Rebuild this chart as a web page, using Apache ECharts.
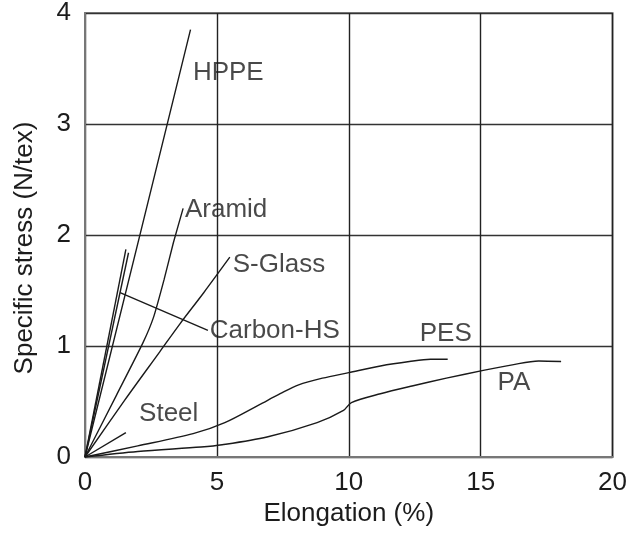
<!DOCTYPE html>
<html>
<head>
<meta charset="utf-8">
<script src="https://cdn.jsdelivr.net/npm/echarts@6/dist/echarts.min.js"></script>
<style>html,body{margin:0;padding:0;background:#fff}#c{width:630px;height:538px}</style>
</head>
<body>
<div id="c"></div>
<script>
// Axis ticks
var xTicks = [0, 5, 10, 15, 20];
var yTicks = [0, 1, 2, 3, 4];

// Curves: [elongation %, specific stress N/tex]
var hppe    = [[0,0],[2.05,1.97],[4.0,3.85]];
var aramid  = [[0,0],[1.2,0.56],[2.2,1.03],[2.6,1.26],[3.0,1.6],[3.35,1.93],[3.72,2.24]];
var sGlass  = [[0,0],[1.5,0.51],[2.84,0.95],[3.6,1.2],[4.5,1.48],[5.49,1.8]];
var carbonA = [[0,0],[1.55,1.87]];
var carbonB = [[0,0],[1.65,1.84]];
var carbonLeader = [[1.33,1.48],[4.66,1.14]];
var steel   = [[0,0],[1.55,0.22]];
var pes     = [[0,0],[2.0,0.1],[4.1,0.21],[5.3,0.31],[6.6,0.47],[7.4,0.57],[8.1,0.65],[9.0,0.71],[10.0,0.76],[11.2,0.82],[12.3,0.86],[13.1,0.88],[13.75,0.88]];
var pa      = [[0,0],[2.0,0.05],[4.4,0.09],[5.2,0.11],[6.9,0.18],[8.8,0.31],[9.8,0.42],[10.1,0.49],[11.2,0.57],[12.4,0.64],[13.7,0.71],[15.1,0.78],[16.2,0.83],[17.2,0.865],[18.05,0.86]];

// Curve labels
var labelNames = ['HPPE','Aramid','S-Glass','Carbon-HS','PES','PA','Steel'];
var labelX     = [4.09, 3.79, 5.6, 4.73, 12.69, 15.64, 2.05];
var labelY     = [3.46, 2.23, 1.73, 1.14, 1.11, 0.67, 0.39];

var FONT = 'Liberation Sans, Arial, sans-serif';
var TXT = '#1c1c1c';
var FS = 26;
var chart = echarts.init(document.getElementById('c'), null, {renderer:'canvas'});

function curve(d, smooth) {
  return {type:'line', data:d, showSymbol:false, symbol:'none', smooth:smooth||false,
          lineStyle:{color:'#1a1a1a', width:1.4}, silent:true, z:3};
}

var labelData = labelNames.map(function(n,i){ return {name:n, value:[labelX[i], labelY[i]]}; });

chart.setOption({
  animation:false,
  backgroundColor:'#fff',
  grid:{left:85, right:17, top:12, bottom:81, show:true, borderColor:'#888', borderWidth:2, backgroundColor:'transparent'},
  xAxis:{type:'value', min:xTicks[0], max:xTicks[xTicks.length-1], interval:5,
    name:'Elongation (%)', nameLocation:'middle', nameGap:42,
    nameTextStyle:{fontFamily:FONT, fontSize:FS, color:TXT},
    axisLine:{show:true, lineStyle:{color:'#777', width:2}},
    axisTick:{show:false},
    axisLabel:{fontFamily:FONT, fontSize:FS, color:TXT, margin:13},
    splitLine:{show:true, lineStyle:{color:'#222', width:1.4}}},
  yAxis:{type:'value', min:yTicks[0], max:yTicks[yTicks.length-1], interval:1,
    name:'Specific stress (N/tex)', nameLocation:'middle', nameGap:47,
    nameTextStyle:{fontFamily:FONT, fontSize:FS, color:TXT, padding:[0,26,0,0]},
    axisLine:{show:true, lineStyle:{color:'#777', width:2}},
    axisTick:{show:false},
    axisLabel:{fontFamily:FONT, fontSize:FS, color:TXT, margin:14},
    splitLine:{show:true, lineStyle:{color:'#333', width:1.4}}},
  series:[
    curve(hppe), curve(aramid, 0.2), curve(sGlass, 0.3), curve(carbonA), curve(carbonB),
    curve(carbonLeader), curve(steel), curve(pes, 0.3), curve(pa, 0.3),
    {type:'scatter', data:labelData, symbolSize:0, silent:true, z:5,
     label:{show:true, position:'right', distance:0, formatter:'{b}',
            fontFamily:FONT, fontSize:FS, color:TXT, align:'left', verticalAlign:'middle'}}
  ]
});
</script>
</body>
</html>
